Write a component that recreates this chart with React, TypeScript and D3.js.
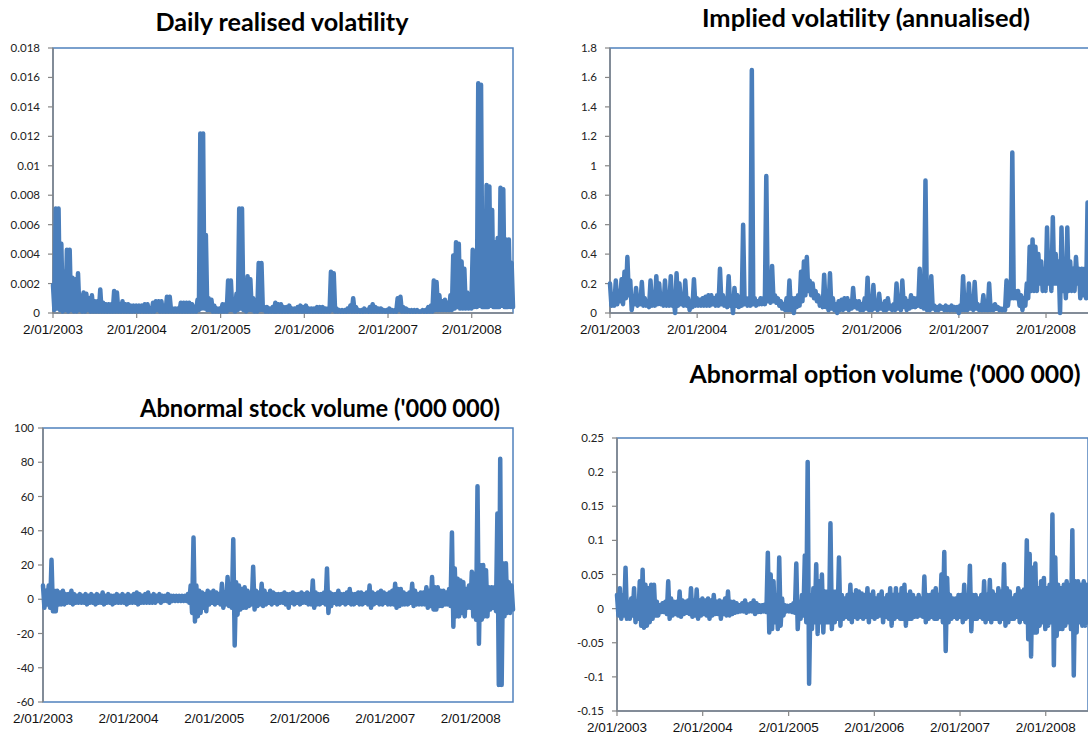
import React from 'react';
import * as d3 from 'd3';

// ---------- data ----------
const START_DATE = new Date(2003, 0, 2);
const END_DATE = new Date(2008, 5, 30);

const X_TICK_LABELS = ['2/01/2003', '2/01/2004', '2/01/2005', '2/01/2006', '2/01/2007', '2/01/2008'];

const TITLES = [
  'Daily realised volatility',
  'Implied volatility (annualised)',
  "Abnormal stock volume ('000 000)",
  "Abnormal option volume ('000 000)",
];

const REALISED_TICKS = ['0', '0.002', '0.004', '0.006', '0.008', '0.01', '0.012', '0.014', '0.016', '0.018'];
const IMPLIED_TICKS = ['0', '0.2', '0.4', '0.6', '0.8', '1', '1.2', '1.4', '1.6', '1.8'];
const STOCK_TICKS = ['-60', '-40', '-20', '0', '20', '40', '60', '80', '100'];
const OPTION_TICKS = ['-0.15', '-0.1', '-0.05', '0', '0.05', '0.1', '0.15', '0.2', '0.25'];

// Each series is read as alternating highs and lows of the dense daily trace.
const REALISED_HIGH = [
  0.0019, 0.0071, 0.0071, 0.0047, 0.0028, 0.0043, 0.0043, 0.0024, 0.0023, 0.0027,
  0.0012, 0.0014, 0.0013, 0.0010, 0.0012, 0.0008, 0.0008, 0.0016, 0.0007, 0.0006,
  0.0006, 0.0006, 0.0015, 0.0014, 0.0006, 0.0008, 0.0006, 0.0006, 0.0005, 0.0005,
  0.0005, 0.0005, 0.0005, 0.0006, 0.0006, 0.0003, 0.0007, 0.0008, 0.0008, 0.0008,
  0.0005, 0.0011, 0.0011, 0.0003, 0.0003, 0.0003, 0.0007, 0.0007, 0.0007, 0.0007,
  0.0006, 0.0004, 0.0009, 0.0122, 0.0122, 0.0053, 0.0010, 0.0009, 0.0005, 0.0003,
  0.0003, 0.0006, 0.0006, 0.0022, 0.0022, 0.0007, 0.0013, 0.0071, 0.0071, 0.0008,
  0.0025, 0.0023, 0.0010, 0.0009, 0.0034, 0.0034, 0.0004, 0.0004, 0.0003, 0.0004,
  0.0007, 0.0006, 0.0006, 0.0004, 0.0004, 0.0005, 0.0003, 0.0003, 0.0004, 0.0005,
  0.0004, 0.0005, 0.0003, 0.0003, 0.0003, 0.0004, 0.0004, 0.0004, 0.0003, 0.0003,
  0.0028, 0.0027, 0.0003, 0.0002, 0.0002, 0.0002, 0.0003, 0.0005, 0.0010, 0.0004,
  0.0002, 0.0002, 0.0003, 0.0002, 0.0004, 0.0006, 0.0004, 0.0003, 0.0003, 0.0002,
  0.0002, 0.0003, 0.0002, 0.0002, 0.0010, 0.0011, 0.0004, 0.0003, 0.0002, 0.0002,
  0.0002, 0.0002, 0.0001, 0.0002, 0.0002, 0.0004, 0.0005, 0.0022, 0.0021, 0.0012,
  0.0008, 0.0009, 0.0007, 0.0012, 0.0039, 0.0048, 0.0047, 0.0035, 0.0030, 0.0014,
  0.0013, 0.0043, 0.0042, 0.0156, 0.0155, 0.0047, 0.0087, 0.0086, 0.0070, 0.0048,
  0.0051, 0.0085, 0.0084, 0.0050, 0.0050, 0.0034,
];
const REALISED_LOW = [
  0.0002, 0.0003, 0.0002, 0.0001, 0.0002, 0.0001, 0.0002, 0.0001, 0.0001, 0.0002,
  0.0001, 0.0001, 0.0002, 0.0001, 0.0001, 0.0001, 0.0001, 0.0001, 0.0001, 0.0001,
  0.0001, 0.0001, 0.0001, 0.0001, 0.0001, 0.0001, 0.0001, 0.0001, 0.0001, 0.0001,
  0.0001, 0.0001, 0.0001, 0.0001, 0.0001, 0.0001, 0.0001, 0.0002, 0.0001, 0.0001,
  0.0001, 0.0001, 0.0001, 0.0001, 0.0001, 0.0001, 0.0001, 0.0001, 0.0001, 0.0001,
  0.0001, 0.0001, 0.0002, 0.0003, 0.0003, 0.0002, 0.0002, 0.0001, 0.0001, 0.0001,
  0.0001, 0.0001, 0.0001, 0.0002, 0.0002, 0.0001, 0.0002, 0.0003, 0.0002, 0.0001,
  0.0002, 0.0002, 0.0001, 0.0001, 0.0002, 0.0002, 0.0001, 0.0001, 0.0001, 0.0001,
  0.0001, 0.0001, 0.0001, 0.0001, 0.0001, 0.0001, 0.0001, 0.0001, 0.0001, 0.0001,
  0.0001, 0.0001, 0.0001, 0.0001, 0.0001, 0.0001, 0.0001, 0.0001, 0.0001, 0.0001,
  0.0002, 0.0001, 0.0001, 0.0001, 0.0001, 0.0001, 0.0001, 0.0001, 0.0001, 0.0001,
  0.0001, 0.0001, 0.0001, 0.0001, 0.0001, 0.0001, 0.0001, 0.0001, 0.0001, 0.0001,
  0.0001, 0.0001, 0.0001, 0.0001, 0.0002, 0.0001, 0.0001, 0.0001, 0.0001, 0.0001,
  0.0001, 0.0001, 0.0001, 0.0001, 0.0001, 0.0001, 0.0001, 0.0002, 0.0002, 0.0002,
  0.0002, 0.0002, 0.0002, 0.0002, 0.0003, 0.0004, 0.0003, 0.0003, 0.0003, 0.0003,
  0.0003, 0.0004, 0.0004, 0.0005, 0.0004, 0.0004, 0.0004, 0.0005, 0.0004, 0.0004,
  0.0004, 0.0005, 0.0004, 0.0004, 0.0004, 0.0004,
];

const IMPLIED_HIGH = [
  0.20, 0.12, 0.22, 0.15, 0.23, 0.28, 0.38, 0.22, 0.10, 0.17,
  0.10, 0.21, 0.10, 0.08, 0.22, 0.10, 0.25, 0.20, 0.10, 0.22,
  0.10, 0.25, 0.10, 0.27, 0.20, 0.10, 0.22, 0.10, 0.08, 0.23,
  0.10, 0.09, 0.10, 0.11, 0.12, 0.12, 0.10, 0.12, 0.30, 0.12,
  0.10, 0.25, 0.10, 0.17, 0.12, 0.10, 0.60, 0.10, 0.10, 1.65,
  0.10, 0.08, 0.10, 0.10, 0.93, 0.10, 0.32, 0.12, 0.10, 0.08,
  0.06, 0.10, 0.22, 0.10, 0.10, 0.12, 0.28, 0.35, 0.38, 0.22,
  0.20, 0.15, 0.12, 0.10, 0.26, 0.08, 0.27, 0.10, 0.06, 0.08,
  0.09, 0.10, 0.10, 0.08, 0.17, 0.08, 0.08, 0.06, 0.10, 0.24,
  0.06, 0.19, 0.08, 0.13, 0.06, 0.08, 0.10, 0.05, 0.06, 0.20,
  0.08, 0.22, 0.10, 0.08, 0.12, 0.10, 0.10, 0.30, 0.10, 0.90,
  0.06, 0.25, 0.05, 0.04, 0.05, 0.04, 0.05, 0.04, 0.05, 0.04,
  0.04, 0.05, 0.25, 0.06, 0.20, 0.06, 0.21, 0.06, 0.05, 0.12,
  0.05, 0.20, 0.05, 0.06, 0.04, 0.03, 0.03, 0.22, 0.15, 1.09,
  0.15, 0.15, 0.12, 0.10, 0.20, 0.45, 0.50, 0.45, 0.40, 0.35,
  0.30, 0.58, 0.35, 0.65, 0.40, 0.35, 0.58, 0.30, 0.58, 0.35,
  0.30, 0.38, 0.30, 0.30, 0.30, 0.75,
];
const IMPLIED_LOW = [
  0.05, 0.05, 0.06, 0.08, 0.06, 0.10, 0.12, 0.02, 0.06, 0.05,
  0.06, 0.05, 0.05, 0.04, 0.05, 0.05, 0.06, 0.06, 0.05, 0.05,
  0.05, 0.05, 0.00, 0.05, 0.06, 0.05, 0.05, 0.02, 0.04, 0.05,
  0.05, 0.05, 0.05, 0.05, 0.05, 0.06, 0.05, 0.05, 0.06, 0.05,
  0.04, 0.05, 0.00, 0.05, 0.04, 0.05, 0.06, 0.05, 0.05, 0.06,
  0.05, 0.06, 0.06, 0.06, 0.08, 0.07, 0.08, 0.07, 0.05, 0.03,
  0.02, 0.02, 0.02, 0.00, 0.04, 0.05, 0.08, 0.12, 0.15, 0.12,
  0.10, 0.08, 0.05, 0.04, 0.04, 0.02, 0.03, 0.02, 0.00, 0.02,
  0.02, 0.03, 0.02, 0.03, 0.04, 0.03, 0.02, 0.02, 0.03, 0.02,
  0.02, 0.03, 0.02, 0.03, 0.02, 0.02, 0.03, 0.02, 0.02, 0.03,
  0.02, 0.04, 0.02, 0.03, 0.04, 0.04, 0.05, 0.04, 0.03, 0.02,
  0.02, 0.03, 0.02, 0.02, 0.03, 0.02, 0.02, 0.02, 0.02, 0.02,
  0.00, 0.02, 0.02, 0.02, 0.03, 0.02, 0.03, 0.02, 0.02, 0.02,
  0.02, 0.02, 0.02, 0.03, 0.02, 0.02, 0.02, 0.05, 0.10, 0.10,
  0.10, 0.05, 0.02, 0.05, 0.10, 0.15, 0.15, 0.15, 0.20, 0.15,
  0.15, 0.20, 0.15, 0.20, 0.20, 0.00, 0.15, 0.10, 0.15, 0.15,
  0.15, 0.20, 0.10, 0.12, 0.10, 0.15,
];

const STOCK_HIGH = [
  8, 5, 8, 23, 5, 5, 4, 5, 3, 3,
  5, 3, 2, 3, 2, 3, 2, 3, 2, 3,
  2, 4, 2, 3, 2, 2, 3, 2, 3, 2,
  3, 2, 3, 4, 3, 2, 3, 4, 2, 3,
  2, 3, 2, 2, 3, 2, 2, 2, 2, 2,
  2, 3, 8, 36, 8, 5, 4, 3, 5, 4,
  5, 4, 3, 9, 4, 13, 8, 35, 10, 8,
  6, 7, 5, 4, 19, 5, 4, 9, 5, 3,
  5, 4, 3, 3, 3, 4, 3, 3, 4, 3,
  3, 4, 3, 4, 3, 11, 4, 3, 3, 4,
  18, 4, 3, 3, 5, 3, 3, 4, 6, 3,
  3, 4, 4, 3, 4, 8, 4, 3, 4, 5,
  4, 3, 4, 5, 9, 6, 6, 4, 3, 4,
  9, 5, 3, 4, 4, 7, 5, 13, 7, 7,
  5, 5, 4, 6, 39, 18, 12, 11, 10, 6,
  8, 16, 15, 66, 20, 20, 17, 7, 7, 7,
  50, 82, 21, 21, 10, 8,
];
const STOCK_LOW = [
  -5, -3, -5, -7, -7, -3, -3, -3, -2, -2,
  -3, -2, -2, -2, -2, -3, -2, -2, -3, -2,
  -2, -3, -2, -2, -3, -2, -2, -2, -2, -3,
  -2, -2, -2, -3, -2, -2, -2, -2, -2, -2,
  -1, -2, -1, -1, -2, -1, -1, -1, -1, -1,
  -1, -2, -8, -13, -10, -8, -5, -7, -3, -2,
  -3, -2, -3, -5, -3, -4, -5, -27, -9, -6,
  -5, -5, -4, -3, -6, -4, -3, -4, -3, -2,
  -3, -2, -3, -2, -2, -3, -5, -2, -3, -2,
  -3, -2, -2, -3, -3, -5, -3, -3, -2, -3,
  -8, -4, -2, -3, -3, -2, -3, -2, -3, -3,
  -2, -3, -3, -2, -3, -5, -3, -2, -3, -3,
  -2, -3, -3, -3, -5, -4, -3, -3, -3, -2,
  -4, -3, -3, -3, -3, -5, -4, -6, -6, -4,
  -4, -3, -3, -4, -16, -10, -10, -8, -10, -5,
  -5, -10, -12, -26, -12, -10, -10, -6, -5, -7,
  -50, -50, -10, -8, -8, -6,
];

const OPTION_HIGH = [
  0.02, 0.03, 0.02, 0.06, 0.01, 0.015, 0.03, 0.01, 0.04, 0.057,
  0.035, 0.03, 0.035, 0.035, 0.01, 0.005, 0.008, 0.01, 0.04, 0.015,
  0.01, 0.01, 0.025, 0.012, 0.01, 0.012, 0.03, 0.012, 0.028, 0.012,
  0.015, 0.012, 0.015, 0.012, 0.02, 0.01, 0.012, 0.01, 0.015, 0.025,
  0.01, 0.01, 0.008, 0.005, 0.008, 0.012, 0.006, 0.008, 0.012, 0.008,
  0.005, 0.005, 0.006, 0.082, 0.05, 0.04, 0.02, 0.075, 0.015, 0.005,
  0.004, 0.005, 0.008, 0.066, 0.01, 0.02, 0.078, 0.215, 0.02, 0.03,
  0.065, 0.04, 0.05, 0.025, 0.025, 0.125, 0.025, 0.025, 0.075, 0.02,
  0.015, 0.02, 0.035, 0.02, 0.027, 0.025, 0.022, 0.02, 0.03, 0.02,
  0.025, 0.015, 0.02, 0.025, 0.015, 0.02, 0.03, 0.02, 0.03, 0.02,
  0.03, 0.035, 0.02, 0.025, 0.02, 0.015, 0.02, 0.015, 0.047, 0.02,
  0.02, 0.025, 0.03, 0.02, 0.05, 0.083, 0.045, 0.02, 0.015, 0.015,
  0.02, 0.02, 0.035, 0.02, 0.063, 0.02, 0.02, 0.015, 0.02, 0.04,
  0.02, 0.042, 0.025, 0.02, 0.03, 0.025, 0.065, 0.03, 0.025, 0.015,
  0.02, 0.03, 0.025, 0.028, 0.1, 0.08, 0.06, 0.066, 0.03, 0.04,
  0.045, 0.03, 0.035, 0.138, 0.075, 0.035, 0.03, 0.035, 0.04, 0.035,
  0.115, 0.04, 0.04, 0.035, 0.04, 0.035,
];
const OPTION_LOW = [
  -0.01, -0.015, -0.01, -0.015, -0.015, -0.01, -0.02, -0.015, -0.025, -0.028,
  -0.025, -0.02, -0.015, -0.01, -0.01, -0.005, -0.005, -0.008, -0.015, -0.01,
  -0.008, -0.01, -0.012, -0.008, -0.006, -0.008, -0.012, -0.01, -0.015, -0.01,
  -0.008, -0.01, -0.015, -0.01, -0.008, -0.008, -0.015, -0.008, -0.01, -0.01,
  -0.008, -0.006, -0.005, -0.004, -0.004, -0.006, -0.004, -0.004, -0.008, -0.005,
  -0.005, -0.004, -0.005, -0.035, -0.03, -0.02, -0.03, -0.025, -0.01, -0.004,
  -0.004, -0.005, -0.006, -0.03, -0.015, -0.01, -0.02, -0.11, -0.03, -0.02,
  -0.037, -0.02, -0.035, -0.02, -0.02, -0.03, -0.02, -0.015, -0.025, -0.015,
  -0.012, -0.015, -0.02, -0.012, -0.015, -0.012, -0.015, -0.012, -0.02, -0.012,
  -0.015, -0.012, -0.01, -0.02, -0.012, -0.015, -0.025, -0.015, -0.012, -0.015,
  -0.015, -0.025, -0.015, -0.015, -0.012, -0.012, -0.01, -0.012, -0.02, -0.015,
  -0.012, -0.015, -0.015, -0.012, -0.02, -0.062, -0.02, -0.015, -0.012, -0.015,
  -0.012, -0.02, -0.015, -0.012, -0.033, -0.015, -0.015, -0.012, -0.015, -0.02,
  -0.015, -0.02, -0.015, -0.015, -0.02, -0.015, -0.025, -0.02, -0.015, -0.015,
  -0.012, -0.02, -0.015, -0.02, -0.045, -0.07, -0.035, -0.035, -0.025, -0.02,
  -0.03, -0.025, -0.02, -0.083, -0.04, -0.03, -0.03, -0.025, -0.02, -0.03,
  -0.098, -0.035, -0.02, -0.025, -0.025, -0.02,
];

// ---------- layout ----------
const LINE_COLOR = '#4a7ebb';
const BORDER_COLOR = '#4f81bd';
const AXIS_COLOR = '#868686';

type PanelCfg = {
  title: string;
  high: number[];
  low: number[];
  ticks: string[];
  left: number; right: number; top: number; bottom: number;
  titleX: number; titleY: number; titleW: number;
  xAxisTicks: boolean;
  labelGap: number;
};

const PANELS: PanelCfg[] = [
  { title: TITLES[0], high: REALISED_HIGH, low: REALISED_LOW, ticks: REALISED_TICKS, left: 53, right: 513, top: 48, bottom: 313, titleX: 282, titleY: 31, titleW: 253, xAxisTicks: true, labelGap: 13 },
  { title: TITLES[1], high: IMPLIED_HIGH, low: IMPLIED_LOW, ticks: IMPLIED_TICKS, left: 610, right: 1089, top: 48, bottom: 313, titleX: 866, titleY: 27, titleW: 328, xAxisTicks: true, labelGap: 13 },
  { title: TITLES[2], high: STOCK_HIGH, low: STOCK_LOW, ticks: STOCK_TICKS, left: 43, right: 513, top: 428, bottom: 702, titleX: 320, titleY: 417, titleW: 360, xAxisTicks: false, labelGap: 9 },
  { title: TITLES[3], high: OPTION_HIGH, low: OPTION_LOW, ticks: OPTION_TICKS, left: 617, right: 1088, top: 438, bottom: 711, titleX: 885, titleY: 383, titleW: 391, xAxisTicks: true, labelGap: 13 },
];

function Panel({ p }: { p: PanelCfg }) {
  const tickVals = p.ticks.map(Number);
  const x = d3.scaleTime().domain([START_DATE, END_DATE]).range([p.left, p.right]);
  const y = d3.scaleLinear().domain([tickVals[0], tickVals[tickVals.length - 1]]).range([p.bottom, p.top]);
  const values = p.high.flatMap((h, k) => [h, p.low[k]]);
  const n = values.length;
  const step = (END_DATE.getTime() - START_DATE.getTime()) / (n - 1);
  const dateAt = (i: number) => new Date(START_DATE.getTime() + i * step);
  const line = d3.line<number>().x((_, i) => x(dateAt(i))).y((v) => y(v));
  const parse = d3.timeParse('%d/%m/%Y');
  const xTicks = X_TICK_LABELS.map((l) => ({ label: l, date: parse(l) as Date }));

  return (
    <g>
      <rect x={p.left} y={p.top} width={p.right - p.left} height={p.bottom - p.top}
        fill="none" stroke={BORDER_COLOR} strokeWidth={1.5} />
      <line x1={p.left} x2={p.left} y1={p.top} y2={p.bottom} stroke={AXIS_COLOR} strokeWidth={1.5} />
      {tickVals.map((v, k) => (
        <g key={k}>
          <line x1={p.left - 5} x2={p.left} y1={y(v)} y2={y(v)} stroke={AXIS_COLOR} strokeWidth={1.2} />
          <text x={p.left - p.labelGap} y={y(v)} dy="0.35em" textAnchor="end"
            fontFamily="Lato, 'Open Sans', sans-serif" fontSize={11.5} fill="#222">{p.ticks[k]}</text>
        </g>
      ))}
      {p.xAxisTicks && (
        <g>
          <line x1={p.left} x2={p.right} y1={p.bottom} y2={p.bottom} stroke={AXIS_COLOR} strokeWidth={1.5} />
          {xTicks.map((t, k) => (
            <line key={k} x1={x(t.date)} x2={x(t.date)} y1={p.bottom} y2={p.bottom + 5} stroke={AXIS_COLOR} strokeWidth={1.2} />
          ))}
        </g>
      )}
      {xTicks.map((t, k) => (
        <text key={k} x={x(t.date)} y={p.bottom + 21} textAnchor="middle"
          fontFamily="'Liberation Sans', Arial, sans-serif" fontSize={13.5} fill="#111">{t.label}</text>
      ))}
      <path d={line(values) || ''} fill="none" stroke={LINE_COLOR} strokeWidth={4.5}
        strokeLinejoin="round" strokeLinecap="round" />
      <text x={p.titleX} y={p.titleY} textAnchor="middle" fontFamily="Lato, 'Open Sans', sans-serif"
        fontWeight="bold" fontSize={25} fill="#000" textLength={p.titleW} lengthAdjust="spacingAndGlyphs">{p.title}</text>
    </g>
  );
}

export default function App() {
  return (
    <svg width={1088} height={734} style={{ position: 'absolute', left: 0, top: 0, background: '#fff' }}>
      <rect x={0} y={0} width={1088} height={734} fill="#fff" />
      {PANELS.map((p, i) => <Panel key={i} p={p} />)}
    </svg>
  );
}
